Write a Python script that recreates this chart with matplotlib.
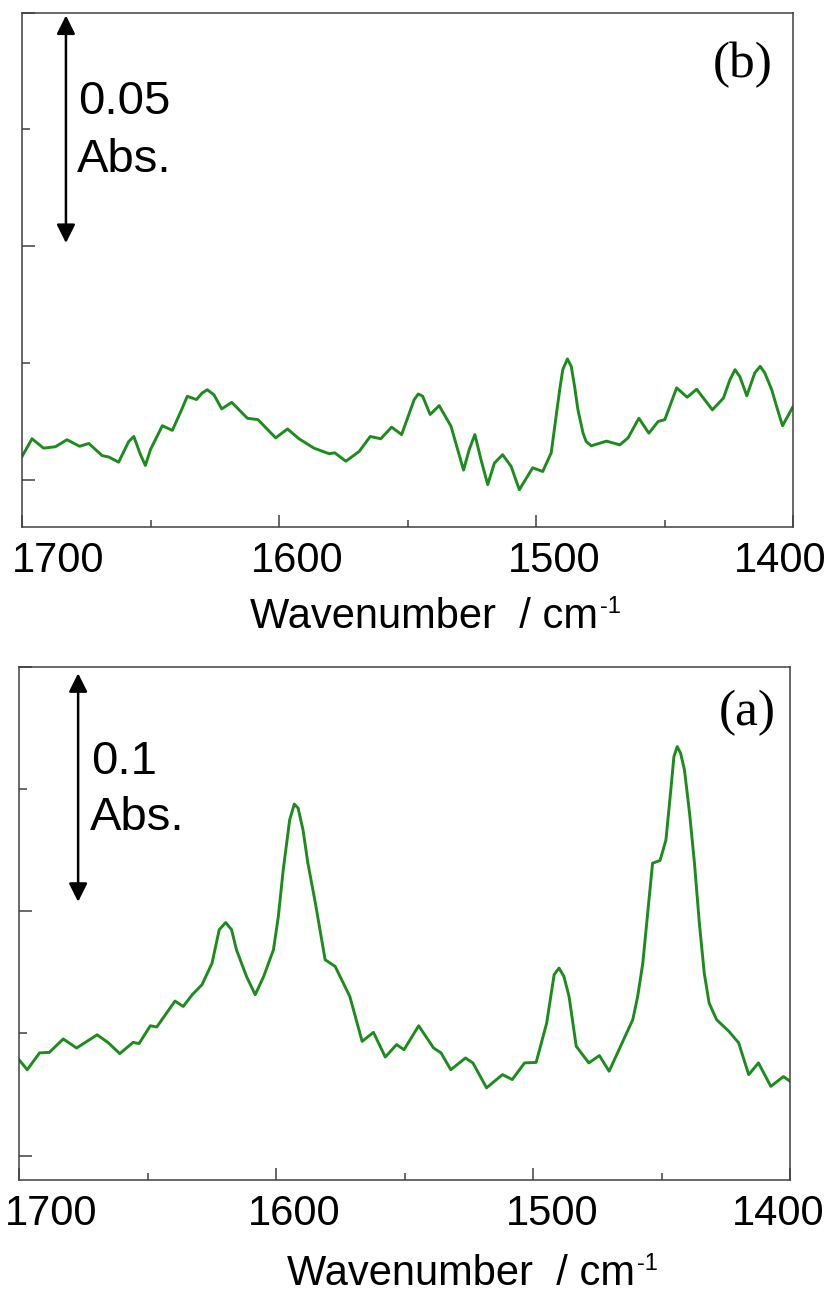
import matplotlib
matplotlib.use("Agg")
import matplotlib.pyplot as plt
import matplotlib.transforms as mtransforms
from matplotlib.ticker import MultipleLocator, FixedLocator

# spectrum (b), top panel: (wavenumber, absorbance)
spec_b = [
    (1700, 0.0050), (1696.1, 0.0088), (1691.6, 0.0068), (1687.0, 0.0071), (1682.5, 0.0086),
    (1677.6, 0.0072), (1674.0, 0.0078), (1668.8, 0.0052), (1666.2, 0.0049), (1662.4, 0.0038),
    (1658.5, 0.0082), (1656.5, 0.0093), (1653.9, 0.0054), (1652.0, 0.0031), (1650.0, 0.0065),
    (1645.4, 0.0116), (1641.5, 0.0106), (1637.6, 0.0154), (1635.7, 0.0179), (1632.1, 0.0172),
    (1629.9, 0.0186), (1627.9, 0.0193), (1625.3, 0.0182), (1622.3, 0.0152), (1618.4, 0.0166),
    (1612.3, 0.0132), (1608.2, 0.0129), (1601.3, 0.0090), (1596.7, 0.0109), (1592.2, 0.0088),
    (1586.4, 0.0068), (1580.5, 0.0056), (1578.3, 0.0058), (1574.0, 0.0040), (1568.8, 0.0061),
    (1564.5, 0.0093), (1560.4, 0.0088), (1556.2, 0.0113), (1552.3, 0.0097), (1549.3, 0.0143),
    (1547.4, 0.0172), (1545.8, 0.0184), (1544.1, 0.0179), (1541.2, 0.0140), (1537.7, 0.0159),
    (1533.1, 0.0115), (1528.2, 0.0021), (1526.0, 0.0065), (1523.8, 0.0097), (1521.4, 0.0043),
    (1518.8, -0.0010), (1516.2, 0.0036), (1513.0, 0.0054), (1509.7, 0.0029), (1506.5, -0.0021),
    (1501.3, 0.0026), (1497.4, 0.0018), (1494.1, 0.0058), (1492.2, 0.0136), (1490.8, 0.0193),
    (1489.6, 0.0236), (1487.8, 0.0259), (1486.3, 0.0243), (1485.0, 0.0200), (1483.7, 0.0150),
    (1481.7, 0.0100), (1480.5, 0.0082), (1478.5, 0.0073), (1472.6, 0.0083), (1467.4, 0.0075),
    (1464.2, 0.0090), (1460.0, 0.0132), (1456.1, 0.0100), (1452.5, 0.0125), (1449.9, 0.0129),
    (1445.3, 0.0197), (1441.2, 0.0177), (1437.5, 0.0194), (1431.4, 0.0150), (1427.1, 0.0175),
    (1424.6, 0.0214), (1422.6, 0.0236), (1420.7, 0.0221), (1418.0, 0.0180), (1414.9, 0.0229),
    (1412.8, 0.0243), (1411.0, 0.0229), (1408.3, 0.0193), (1406.4, 0.0157), (1404.1, 0.0116),
    (1400.0, 0.0157),
]

# spectrum (a), bottom panel
spec_a = [
    (1700, 0.0392), (1696.8, 0.0351), (1692.0, 0.0420), (1688.2, 0.0422), (1682.8, 0.0477),
    (1677.6, 0.0440), (1669.6, 0.0494), (1665.2, 0.0461), (1660.8, 0.0417), (1655.6, 0.0463),
    (1653.3, 0.0458), (1648.9, 0.0531), (1646.4, 0.0526), (1639.3, 0.0632), (1636.1, 0.0610),
    (1632.6, 0.0658), (1628.8, 0.0699), (1624.9, 0.0787), (1622.1, 0.0924), (1619.6, 0.0953),
    (1617.3, 0.0924), (1615.4, 0.0842), (1611.5, 0.0733), (1608.1, 0.0658), (1604.8, 0.0733),
    (1601.0, 0.0842), (1599.1, 0.0978), (1597.2, 0.1169), (1594.7, 0.1373), (1592.9, 0.1438),
    (1591.4, 0.1421), (1589.5, 0.1332), (1587.6, 0.1196), (1584.7, 0.1033), (1580.9, 0.0801),
    (1577.0, 0.0774), (1571.3, 0.0651), (1566.5, 0.0467), (1562.1, 0.0504), (1557.5, 0.0403),
    (1553.1, 0.0454), (1550.2, 0.0433), (1544.5, 0.0531), (1538.7, 0.0440), (1535.8, 0.0420),
    (1532.0, 0.0351), (1526.3, 0.0399), (1523.4, 0.0379), (1518.1, 0.0277), (1511.9, 0.0331),
    (1508.1, 0.0311), (1503.3, 0.0379), (1498.8, 0.0381), (1494.7, 0.0542), (1491.8, 0.0740),
    (1489.9, 0.0767), (1488.0, 0.0733), (1486.0, 0.0651), (1483.2, 0.0447), (1478.3, 0.0379),
    (1474.2, 0.0409), (1470.4, 0.0345), (1461.2, 0.0556), (1459.3, 0.0651), (1457.3, 0.0787),
    (1455.4, 0.0992), (1453.5, 0.1196), (1450.6, 0.1207), (1448.3, 0.1291), (1446.4, 0.1496),
    (1445.2, 0.1632), (1443.9, 0.1673), (1442.6, 0.1646), (1441.1, 0.1578), (1439.1, 0.1400),
    (1437.2, 0.1196), (1435.3, 0.0951), (1433.4, 0.0747), (1431.5, 0.0624), (1428.6, 0.0556),
    (1423.8, 0.0508), (1420.0, 0.0461), (1416.1, 0.0331), (1412.3, 0.0379), (1407.5, 0.0283),
    (1402.6, 0.0323), (1400.0, 0.0304),
]

wn_b, abs_b = zip(*spec_b)
wn_a, abs_a = zip(*spec_a)

xtick_labels = ["1700", "1600", "1500", "1400"]

green = "#1c8c1c"
spine_col = "#404040"
plt.rcParams["font.family"] = ["Liberation Sans", "DejaVu Sans"]

fig = plt.figure(figsize=(8.30, 12.93), dpi=100)
ax_b = fig.add_axes([0.0265, 0.5927, 0.929, 0.3975])
ax_a = fig.add_axes([0.0229, 0.0874, 0.929, 0.3970])


def style(ax, ymax, ystep, label_offsets):
    ax.set_xlim(1700, 1400)
    ax.set_ylim(-0.01, ymax)
    for s in ax.spines.values():
        s.set_color(spine_col)
        s.set_linewidth(1.1)
    ax.xaxis.set_major_locator(FixedLocator([1700, 1600, 1500, 1400]))
    ax.xaxis.set_minor_locator(FixedLocator([1650, 1550, 1450]))
    ax.set_xticklabels(xtick_labels)
    ax.yaxis.set_major_locator(MultipleLocator(ystep))
    ax.yaxis.set_minor_locator(MultipleLocator(ystep / 2))
    ax.tick_params(which="both", direction="in", colors=spine_col, width=1.1,
                   top=False, right=False)
    ax.tick_params(axis="x", which="major", length=8.6, pad=10, labelsize=30,
                   labelcolor="black")
    ax.tick_params(axis="x", which="minor", length=5)
    ax.tick_params(axis="y", which="major", length=9.4, labelleft=False)
    ax.tick_params(axis="y", which="minor", length=5.8)
    for lab, dx in zip(ax.get_xticklabels(), label_offsets):
        off = mtransforms.ScaledTranslation(dx / 100, 0, fig.dpi_scale_trans)
        lab.set_transform(lab.get_transform() + off)


def add_xlabel(ax, xfrac, yfrac):
    t = ax.text(xfrac, yfrac, "Wavenumber  / cm", transform=ax.transAxes,
                fontsize=30, ha="left", va="baseline")
    ax.annotate("-1", xy=(1, 1), xycoords=t, xytext=(1, 1),
                textcoords="offset points", fontsize=17, ha="left", va="top")


def add_scale(ax, x, y0, y1, val, tx, ty1, ty2):
    ax.annotate("", xy=(x, y0), xytext=(x, y1),
                arrowprops=dict(arrowstyle="<|-|>,head_length=0.8,head_width=0.4",
                                color="black", lw=1.8, mutation_scale=14,
                                shrinkA=0, shrinkB=0))
    ax.text(tx, ty1, val, transform=ax.transAxes, fontsize=34,
            ha="left", va="center")
    ax.text(tx - 0.002, ty2, "Abs.", transform=ax.transAxes, fontsize=34,
            ha="left", va="center")


# top panel (b)
ax_b.plot(wn_b, abs_b, color=green, lw=2.1, solid_joinstyle="round")
style(ax_b, 0.1, 0.05, [36, 18, 18, -13])
add_scale(ax_b, 1682.9, 0.0507, 0.0994, "0.05", 0.073, 0.826, 0.713)
ax_b.text(0.974, 0.898, "(b)", transform=ax_b.transAxes, fontsize=37,
          family="Liberation Serif", ha="right", va="center")
add_xlabel(ax_b, 0.296, -0.197)

# bottom panel (a)
ax_a.plot(wn_a, abs_a, color=green, lw=2.1, solid_joinstyle="round")
style(ax_a, 0.2, 0.1, [32, 18, 19, -12])
add_scale(ax_a, 1677, 0.1038, 0.1973, "0.1", 0.094, 0.815, 0.705)
ax_a.text(0.981, 0.909, "(a)", transform=ax_a.transAxes, fontsize=37,
          family="Liberation Serif", ha="right", va="center")
add_xlabel(ax_a, 0.348, -0.205)

fig.savefig("out.png", dpi=100)
